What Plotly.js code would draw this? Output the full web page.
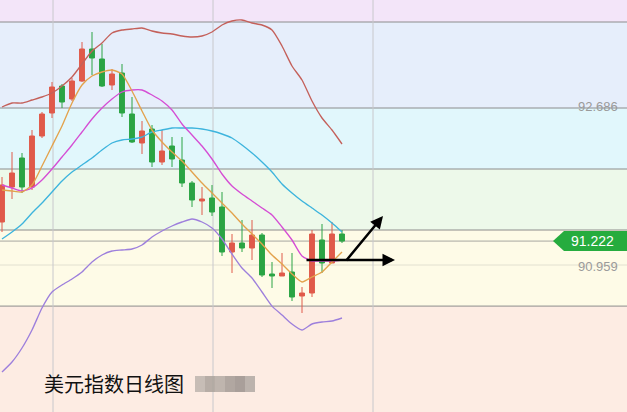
<!DOCTYPE html>
<html><head><meta charset="utf-8">
<script src="https://cdn.plot.ly/plotly-3.0.1.min.js"></script>
<style>html,body{margin:0;padding:0;background:#fff}#chart{width:627px;height:412px}</style>
</head><body><div id="chart"></div>
<script>
const days = [0,1,2,3,4,5,6,7,8,9,10,11,12,13,14,15,16,17,18,19,20,21,22,23,24,25,26,27,28,29,30,31,32,33,34];
const openP  = [91.432,91.817,92.136,91.817,92.378,92.631,92.928,92.785,92.983,93.335,93.225,92.939,93.071,92.620,92.301,92.455,92.092,92.268,92.114,91.861,91.663,91.696,91.597,91.102,91.201,91.146,91.289,90.860,90.838,90.882,90.618,90.651,91.234,90.981,91.300];
const closeP = [91.839,91.971,91.817,92.378,92.620,92.917,92.752,92.983,93.335,93.236,92.928,93.060,92.631,92.312,92.433,92.092,92.213,92.125,91.861,91.674,91.685,91.542,91.102,91.201,91.146,91.289,90.849,90.838,90.871,90.607,90.651,91.300,90.981,91.300,91.222];
const highP  = [91.927,92.202,92.191,92.444,92.642,92.972,92.950,93.016,93.412,93.522,93.390,93.115,93.170,92.807,92.543,92.499,92.444,92.367,92.367,91.883,91.817,91.839,91.762,91.300,91.454,91.454,91.311,90.992,91.091,91.091,90.717,91.344,91.410,91.432,91.344];
const lowP   = [91.322,91.685,91.751,91.784,92.356,92.576,92.686,92.763,92.972,93.049,92.917,92.884,92.587,92.301,92.180,92.037,92.059,92.037,91.817,91.597,91.509,91.498,91.058,90.871,91.102,91.014,90.827,90.706,90.838,90.563,90.431,90.607,90.871,90.981,91.201];

const upperBand = [92.697,92.741,92.741,92.774,92.807,92.851,92.928,93.027,93.170,93.313,93.401,93.511,93.544,93.555,93.566,93.533,93.511,93.500,93.478,93.467,93.478,93.522,93.599,93.643,93.654,93.621,93.599,93.544,93.368,93.148,92.994,92.763,92.576,92.444,92.290];
const midBand   = [91.245,91.322,91.410,91.531,91.641,91.762,91.883,91.982,92.059,92.136,92.224,92.301,92.334,92.345,92.367,92.422,92.444,92.466,92.466,92.466,92.455,92.433,92.400,92.356,92.279,92.191,92.092,91.982,91.850,91.751,91.663,91.586,91.509,91.421,91.322];
const maPink    = [91.839,91.806,91.773,91.806,91.894,92.015,92.147,92.279,92.422,92.565,92.686,92.785,92.862,92.884,92.884,92.829,92.763,92.664,92.510,92.389,92.268,92.125,91.960,91.828,91.740,91.663,91.586,91.509,91.377,91.234,91.058,91.003,91.003,91.003,91.014];
const maOrange  = [91.784,91.773,91.762,91.839,92.048,92.268,92.488,92.741,92.939,93.038,93.082,93.104,93.060,92.873,92.653,92.444,92.312,92.202,92.103,91.982,91.861,91.751,91.641,91.531,91.410,91.300,91.190,91.069,90.970,90.860,90.772,90.827,90.882,90.992,91.102];
const lowerBand = [89.782,89.892,90.046,90.244,90.486,90.662,90.739,90.805,90.882,90.992,91.069,91.113,91.124,91.135,91.179,91.267,91.333,91.388,91.432,91.465,91.432,91.366,91.245,91.080,90.926,90.816,90.662,90.507,90.409,90.310,90.244,90.310,90.332,90.343,90.376];

const zoneLevels = [93.632, 92.686, 92.015, 91.344, 90.507];
const zoneColors = ['#f3e5f9','#e6eefb','#e1f7fc','#edf9ea','#fefbe7','#fdece3'];
const priceLabels = [92.686, 90.959];
const lastPrice = 91.222;
const gridDays = [5.1, 21.1, 37.1];
const titleText = '美元指数日线图';

const yMin = 89.342, yMax = 93.874;
const xMin = -0.2, xMax = 62.5;

const shapes = [];
const bounds = [yMax].concat(zoneLevels).concat([yMin]);
for (let i = 0; i < zoneColors.length; i++) {
  shapes.push({type:'rect', xref:'paper', yref:'y', x0:0, x1:1, y0:bounds[i+1], y1:bounds[i], fillcolor:zoneColors[i], line:{width:0}, layer:'below'});
}
zoneLevels.forEach(v => shapes.push({type:'line', xref:'paper', yref:'y', x0:0, x1:1, y0:v, y1:v, line:{color:'#8c8c8c', width:1}, layer:'below'}));
shapes.push({type:'line', xref:'paper', yref:'y', x0:0, x1:1, y0:lastPrice, y1:lastPrice, line:{color:'#a8a8a0', width:1}, layer:'below'});
shapes.push({type:'line', xref:'paper', yref:'y', x0:0, x1:1, y0:priceLabels[1], y1:priceLabels[1], line:{color:'#e2e0d0', width:1}, layer:'below'});
gridDays.forEach(d => shapes.push({type:'line', xref:'x', yref:'paper', x0:d, x1:d, y0:0, y1:1, line:{color:'#c8c8cc', width:1}, layer:'below'}));
// price tag
shapes.push({type:'path', xref:'paper', yref:'y', xsizemode:'pixel', ysizemode:'pixel', xanchor:1, yanchor:lastPrice,
  path:'M -74,0 L -63,10 L 0,10 L 0,-10 L -63,-10 Z', fillcolor:'#26ac3e', line:{width:0}});
// blurred box after title
const blurCols = ['#bdb5ae','#aaa29b','#b4aca5','#a39b95','#9a928d','#b0a9a3'];
blurCols.forEach((c,i) => shapes.push({type:'rect', xref:'paper', yref:'paper',
  x0:(195+i*10)/627, x1:(205+i*10)/627, y0:1-392/412, y1:1-376/412, fillcolor:c, line:{width:0}, opacity:0.85}));

const lineTrace = (y, color) => ({type:'scatter', mode:'lines', x:days, y:y, line:{color:color, width:1.35, shape:'spline', smoothing:0.6}, hoverinfo:'skip', showlegend:false});

const data = [
  lineTrace(upperBand, '#c4605a'),
  lineTrace(midBand, '#3db4dd'),
  lineTrace(lowerBand, '#9d7fdc'),
  lineTrace(maPink, '#d54dd4'),
  lineTrace(maOrange, '#e3a24c'),
  {type:'candlestick', x:days, open:openP, high:highP, low:lowP, close:closeP,
   increasing:{line:{color:'#e05a4a', width:1}, fillcolor:'#e05a4a'},
   decreasing:{line:{color:'#2ba444', width:1}, fillcolor:'#2ba444'},
   whiskerwidth:0, hoverinfo:'skip', showlegend:false}
];

const annotations = [
  {xref:'paper', yref:'y', x:620/627, y:priceLabels[0], xanchor:'right', yanchor:'middle', yshift:2, text:priceLabels[0].toFixed(3), showarrow:false, font:{family:'Liberation Sans, Arial', size:13, color:'#9a9a9a'}},
  {xref:'paper', yref:'y', x:620/627, y:priceLabels[1], xanchor:'right', yanchor:'middle', yshift:-1, text:priceLabels[1].toFixed(3), showarrow:false, font:{family:'Liberation Sans, Arial', size:13, color:'#9a9a9a'}},
  {xref:'paper', yref:'y', x:592/627, y:lastPrice, xanchor:'center', yanchor:'middle', text:lastPrice.toFixed(3), showarrow:false, font:{family:'Liberation Sans, Arial', size:14, color:'#ffffff'}},
  {xref:'paper', yref:'paper', x:42/627, y:1-383/412, xanchor:'left', yanchor:'middle', text:titleText, showarrow:false, font:{family:'Noto Sans CJK SC', size:20, color:'#111111'}},
  {xref:'x', yref:'y', axref:'x', ayref:'y', x:39.3, y:91.014, ax:30.3, ay:91.014, text:'', showarrow:true, arrowhead:2, arrowsize:1, arrowwidth:2.5, arrowcolor:'#000'},
  {xref:'x', yref:'y', axref:'x', ayref:'y', x:38.1, y:91.498, ax:34.3, ay:90.992, text:'', showarrow:true, arrowhead:2, arrowsize:1, arrowwidth:2.5, arrowcolor:'#000'}
];

const layout = {
  width:627, height:412, margin:{l:0,r:0,t:0,b:0},
  paper_bgcolor:'#ffffff', plot_bgcolor:'rgba(0,0,0,0)',
  showlegend:false,
  xaxis:{range:[xMin,xMax], visible:false, showgrid:false, zeroline:false, rangeslider:{visible:false}, fixedrange:true},
  yaxis:{range:[yMin,yMax], visible:false, showgrid:false, zeroline:false, fixedrange:true},
  shapes:shapes, annotations:annotations
};
Plotly.newPlot('chart', data, layout, {staticPlot:true, displayModeBar:false});
</script></body></html>
